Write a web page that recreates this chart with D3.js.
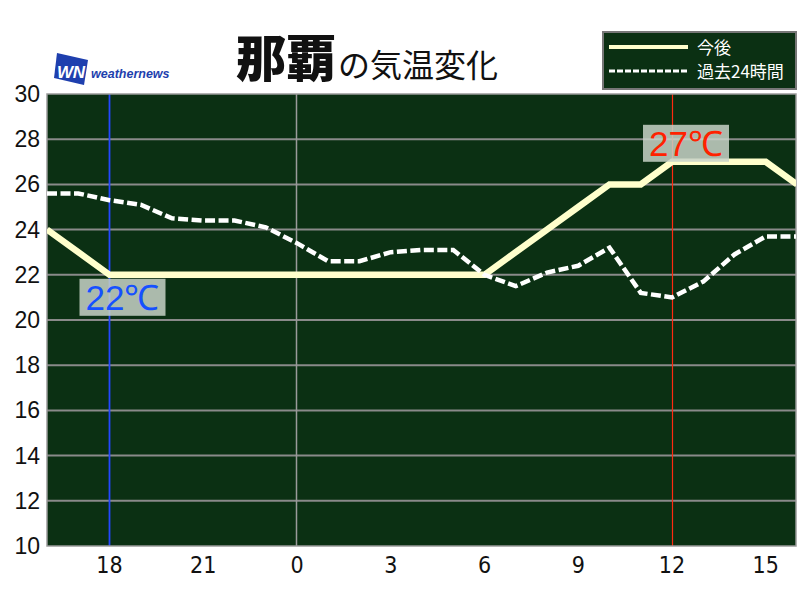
<!DOCTYPE html>
<html><head><meta charset="utf-8">
<script src="https://cdn.jsdelivr.net/npm/d3@7"></script>
<style>body{margin:0;background:#fff}svg{display:block}</style>
</head><body>
<script>
const hours = [16,17,18,19,20,21,22,23,0,1,2,3,4,5,6,7,8,9,10,11,12,13,14,15,16];
const forecast = [24,23,22,22,22,22,22,22,22,22,22,22,22,22,22,23,24,25,26,26,27,27,27,27,26];
const past24 = [25.6,25.6,25.3,25.1,24.5,24.4,24.4,24.1,23.4,22.6,22.6,23.0,23.1,23.1,22.0,21.5,22.1,22.4,23.2,21.2,21.0,21.7,22.9,23.7,23.7];
const yTicks = [10,12,14,16,18,20,22,24,26,28,30];
const xTickIdx = [2,5,8,11,14,17,20,23];
const minLabel = {idx:2, text:"22℃"};
const maxLabel = {idx:20, text:"27℃"};
const legendLabels = ["今後","過去24時間"];

const W=800,H=600;
const svg=d3.select("body").append("svg").attr("width",W).attr("height",H);
const L=47,R=796,T=94,B=546;
const x=d3.scaleLinear().domain([0,24]).range([L,R+1]);
const y=d3.scaleLinear().domain([10,30]).range([B,T]);

svg.append("rect").attr("x",L).attr("y",T).attr("width",R-L).attr("height",B-T).attr("fill","#0b3013");
svg.append("g").selectAll("line").data(yTicks.slice(1,-1)).join("line")
  .attr("x1",L).attr("x2",R).attr("y1",d=>y(d)).attr("y2",d=>y(d))
  .attr("stroke","#8a8a8a").attr("stroke-width",2);
const vx=i=>Math.floor(x(i))+0.5;
svg.append("line").attr("x1",vx(8)).attr("x2",vx(8)).attr("y1",T).attr("y2",B).attr("stroke","#9a9a9a").attr("stroke-width",1.5);
svg.append("line").attr("x1",x(minLabel.idx)).attr("x2",x(minLabel.idx)).attr("y1",T).attr("y2",B).attr("stroke","#2448ff").attr("stroke-width",1.8);
svg.append("line").attr("x1",vx(maxLabel.idx)).attr("x2",vx(maxLabel.idx)).attr("y1",T).attr("y2",B).attr("stroke","#ff2a10").attr("stroke-width",1.2);
svg.append("rect").attr("x",L).attr("y",T).attr("width",R-L).attr("height",B-T).attr("fill","none").attr("stroke","#9a9a9a").attr("stroke-width",1.5);

svg.append("clipPath").attr("id","clip").append("rect").attr("x",L).attr("y",T).attr("width",R-L).attr("height",B-T);
const g=svg.append("g").attr("clip-path","url(#clip)");
const line=d3.line().x((d,i)=>x(i)).y(d=>y(d));
g.append("path").datum(forecast).attr("d",line).attr("fill","none").attr("stroke","#ffffcc").attr("stroke-width",6.5).attr("stroke-linejoin","miter");
g.append("path").datum(past24).attr("d",line).attr("fill","none").attr("stroke","#ffffff").attr("stroke-width",4.5).attr("stroke-dasharray","10,3.5");

function tempLabel(lbl,color,bx,by){
  const gx=svg.append("g");
  gx.append("rect").attr("x",bx).attr("y",by).attr("width",86).attr("height",37).attr("fill","#c8d2c8").attr("fill-opacity",0.85);
  gx.append("text").attr("x",bx+43).attr("y",by+31).attr("text-anchor","middle").attr("fill",color)
    .attr("font-family","Liberation Sans, Arial, sans-serif").attr("font-size",35).text(lbl.text);
}
tempLabel(minLabel,"#1550ff",x(minLabel.idx)-30,y(forecast[minLabel.idx])+4);
tempLabel(maxLabel,"#ff2200",x(maxLabel.idx)-29,y(forecast[maxLabel.idx])-37);

svg.append("g").selectAll("text").data(yTicks).join("text")
  .attr("x",40).attr("y",d=>y(d)+8).attr("text-anchor","end")
  .attr("font-family","Liberation Sans, Arial, sans-serif").attr("font-size",23).attr("fill","#111").text(d=>d);
svg.append("g").selectAll("text").data(xTickIdx).join("text")
  .attr("x",d=>x(d)).attr("y",573).attr("text-anchor","middle")
  .attr("font-family","Liberation Sans Narrow, DejaVu Sans Condensed, sans-serif").attr("font-size",23).attr("fill","#111").text(d=>hours[d]);

const title=svg.append("text").attr("x",236).attr("y",77).attr("fill","#111").attr("font-family","Noto Sans CJK JP, sans-serif");
title.append("tspan").attr("font-size",50).attr("font-weight","900").text("那覇");
title.append("tspan").attr("font-size",32).attr("dx",2).text("の気温変化");

svg.append("path").attr("d","M57,53 L88,60 L84,85 L54,78 Z").attr("fill","#1e3fae");
svg.append("text").attr("x",57).attr("y",78).attr("font-family","Liberation Sans, Arial").attr("font-style","italic").attr("font-weight","bold").attr("font-size",17).attr("fill","#fff").attr("textLength",28).text("WN");
svg.append("text").attr("x",91).attr("y",78).attr("font-family","Liberation Sans, Arial").attr("font-style","italic").attr("font-weight","bold").attr("font-size",12.5).attr("fill","#1e3fae").text("weathernews");

const lg=svg.append("g");
lg.append("rect").attr("x",603).attr("y",32).attr("width",193).attr("height",57).attr("fill","#0b3013").attr("stroke","#777").attr("stroke-width",2);
lg.append("line").attr("x1",609).attr("x2",688).attr("y1",47).attr("y2",47).attr("stroke","#ffffcc").attr("stroke-width",4);
lg.append("line").attr("x1",609).attr("x2",688).attr("y1",71).attr("y2",71).attr("stroke","#ffffff").attr("stroke-width",3).attr("stroke-dasharray","6,2");
lg.selectAll("text.l").data(legendLabels).join("text").attr("x",697).attr("y",(d,i)=>54+i*24)
  .attr("font-family","Noto Sans CJK JP, sans-serif").attr("font-size",17).attr("fill","#fff").text(d=>d);
</script>
</body></html>
